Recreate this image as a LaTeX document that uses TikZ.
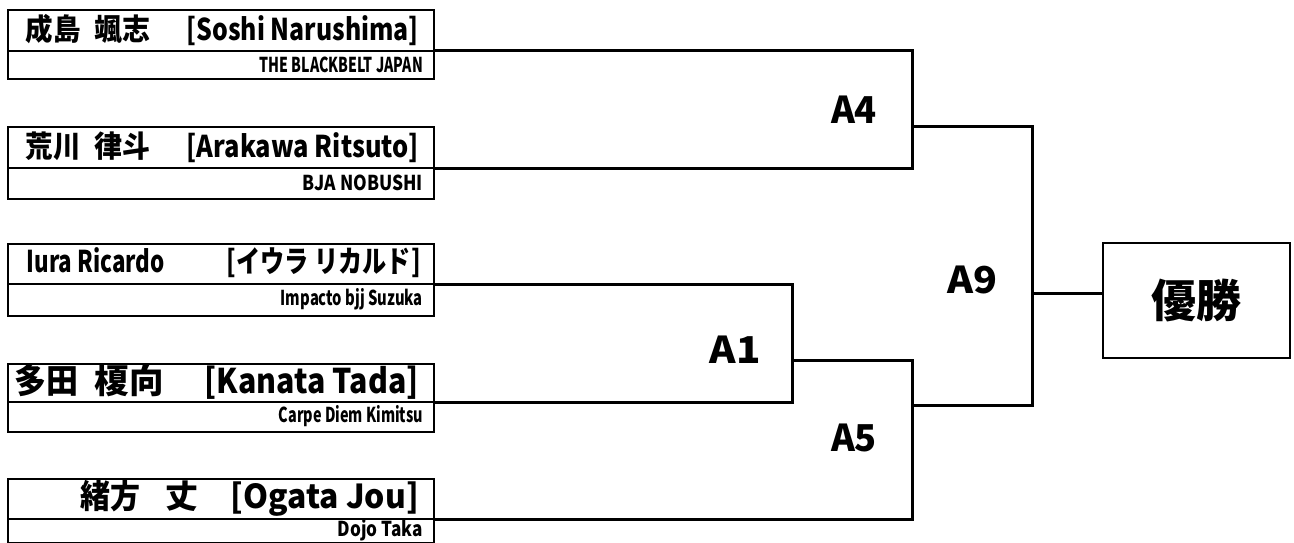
\documentclass[tikz,border=0pt]{standalone}
\usepackage{fontspec}
\usepackage{graphicx}
\setmainfont{Noto Sans CJK JP}
\newcommand{\fitw}[2]{\resizebox{#1}{\height}{#2}}
\begin{document}
\begin{tikzpicture}[x=1pt,y=-1pt,
  pbox/.style={draw,line width=1.6pt,minimum width=426pt,inner sep=0pt,anchor=north west},
  divline/.style={line width=1.6pt},
  bline/.style={line width=3pt},
  pname/.style={anchor=east,inner sep=0pt,font=\fontsize{#1}{#1}\selectfont\bfseries},
  club/.style={anchor=east,inner sep=0pt,font=\fontsize{20.5}{20.5}\selectfont\bfseries},
  mlabel/.style={inner sep=0pt,font=\fontsize{37}{37}\selectfont\bfseries},
  winbox/.style={draw,line width=2.6pt,minimum width=187pt,minimum height=115pt,inner sep=0pt,font=\fontsize{45}{45}\selectfont\bfseries}]
\useasboundingbox (0,0) rectangle (1294,543);

% player boxes
\node[pbox,minimum height=69pt] (b1) at (7,9) {};
\node[pbox,minimum height=72pt] (b2) at (7,126) {};
\node[pbox,minimum height=72pt] (b3) at (7,243) {};
\node[pbox,minimum height=68pt] (b4) at (7,363) {};
\node[pbox,minimum height=64pt] (b5) at (7,478) {};

\coordinate (q1) at (7,51);  \coordinate (p1) at (433,51);
\coordinate (q2) at (7,168); \coordinate (p2) at (433,168);
\coordinate (q3) at (7,284); \coordinate (p3) at (433,284);
\coordinate (q4) at (7,402); \coordinate (p4) at (433,402);
\coordinate (q5) at (7,519); \coordinate (p5) at (433,519);
\foreach \i in {1,...,5}{\draw[divline] (q\i) -- (p\i);}

% names
\node[pname=30] (n1) at (419,30) {\fitw{55pt}{成島}\hspace{14pt}\fitw{56pt}{颯志}\hspace{36pt}\fitw{232pt}{[Soshi Narushima]}};
\node[pname=30] (n2) at (419,147) {\fitw{55pt}{荒川}\hspace{14pt}\fitw{56pt}{律斗}\hspace{36pt}\fitw{232pt}{[Arakawa Ritsuto]}};
\node[pname=30] (n3) at (421,263) {\fitw{138pt}{Iura Ricardo}\hspace{62pt}\fitw{194pt}{[イウラ リカルド]}};
\node[pname=34] (n4) at (419,382) {\fitw{64pt}{多田}\hspace{16pt}\fitw{69pt}{榎向}\hspace{41pt}\fitw{214pt}{[Kanata Tada]}};
\node[pname=33] (n5) at (419,498) {\fitw{60pt}{緒方}\hspace{25pt}\fitw{33pt}{丈}\hspace{32pt}\fitw{188pt}{[Ogata Jou]}};

% clubs
\node[club] (c1) at (423,64.5) {\fitw{163pt}{THE BLACKBELT JAPAN}};
\node[club] (c2) at (423,183) {\fitw{120pt}{BJA NOBUSHI}};
\node[club] (c3) at (423,299.5) {\fitw{142pt}{Impacto bjj Suzuka}};
\node[club] (c4) at (423,416.5) {\fitw{144pt}{Carpe Diem Kimitsu}};
\node[club] (c5) at (423,530) {\fitw{85pt}{Dojo Taka}};

% bracket junctions
\coordinate (a4) at (912,126);
\coordinate (a1) at (792,360);
\coordinate (a5) at (912,405);
\coordinate (a9) at (1032,293);

\node[winbox] (win) at (1196.5,300.5) {優勝};

\draw[bline] (p1) -| (a4) |- (p2);
\draw[bline] (p3) -| (a1) |- (p4);
\draw[bline] (a1) -| (a5) |- (p5);
\draw[bline] (a4) -| (a9) |- (a5);
\draw[bline] (a9) -- (a9 -| win.west);

% match labels
\node[mlabel] (l4) at (854,110) {\fitw{46pt}{A4}};
\node[mlabel] (l1) at (735,350) {\fitw{51pt}{A1}};
\node[mlabel] (l9) at (972,280) {\fitw{50pt}{A9}};
\node[mlabel] (l5) at (854,438) {\fitw{46pt}{A5}};
\end{tikzpicture}
\end{document}
